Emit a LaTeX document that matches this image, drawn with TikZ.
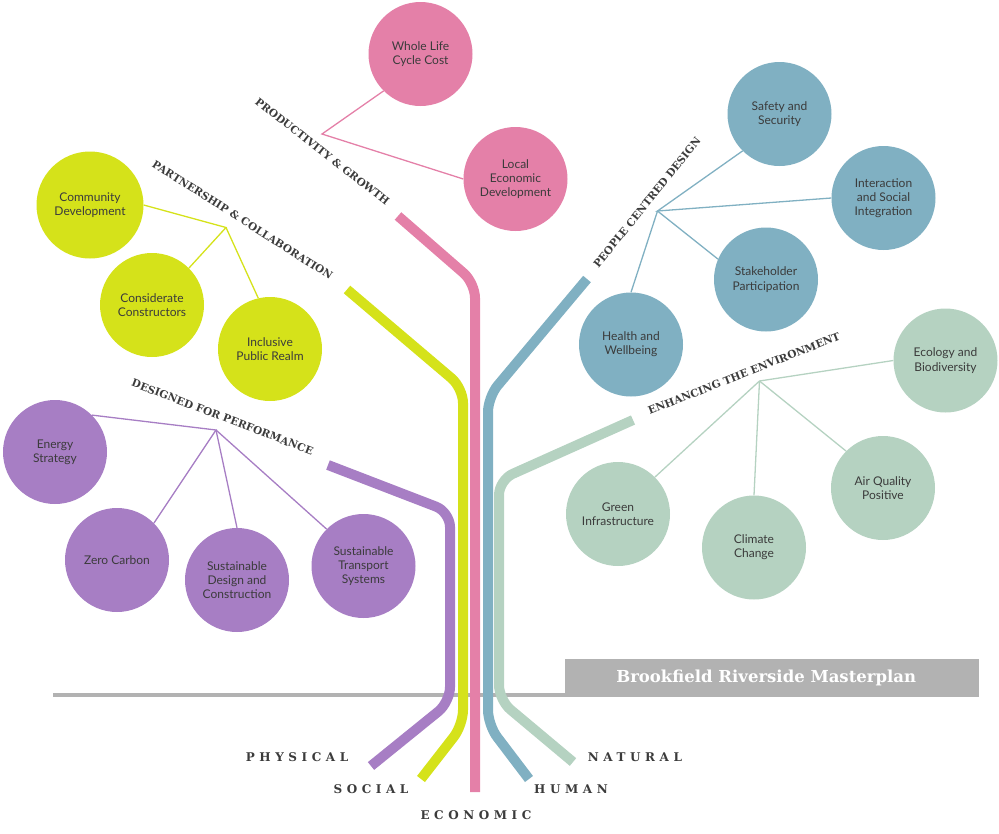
\documentclass[tikz,border=0pt]{standalone}
\usepackage{fontspec}
\setmainfont{Lato}
\newfontfamily\slab{DejaVu Serif}
\usetikzlibrary{calc}
\definecolor{pk}{HTML}{E480A8}
\definecolor{yg}{HTML}{D5E21A}
\definecolor{pu}{HTML}{A77EC4}
\definecolor{bl}{HTML}{80B0C2}
\definecolor{gn}{HTML}{B5D2C1}
\definecolor{gr}{HTML}{B2B2B2}
\definecolor{txt}{HTML}{3B3B3B}
\tikzstyle{goal}=[circle,inner sep=0pt,minimum size=104pt,align=center,text=txt,font=\fontsize{12}{14.3}\selectfont]
\tikzstyle{trunk}=[line width=10pt,rounded corners=15pt]
\tikzstyle{twig}=[line width=1.3pt]
\tikzstyle{theme}=[inner sep=0pt,text=txt,font=\slab\bfseries\fontsize{10.5}{12}\selectfont]
\tikzstyle{root}=[inner sep=0pt,text=txt,font=\slab\bfseries\fontsize{12}{13}\selectfont\addfontfeature{LetterSpace=38}]

\begin{document}
\begin{tikzpicture}[x=1pt,y=-1pt]
  \useasboundingbox (0,0) rectangle (999,833);
  % ground and title
  \node (title) [fill=gr,anchor=north west,minimum width=414pt,minimum height=37.5pt,inner sep=0pt,
                 text=white,font=\slab\bfseries\fontsize{16.5}{18}\selectfont] at (565,659) {\hspace*{-12pt}Brookfield Riverside Masterplan};
  \coordinate (groundL) at (53,694.5);
  \draw[gr,line width=4pt] (groundL) -- (groundL -| title.west);
  % trunks
  \draw[trunk,pu] (328,465) -- (450,512) -- (450,702) -- (371,766);
  \draw[trunk,yg] (347,289.5) -- (463,388) -- (463,725) -- (421,779);
  \draw[trunk,pk] (398,216) -- (475,283) -- (475,792);
  \draw[trunk,bl] (587,279) -- (488,397) -- (488,725) -- (529,779);
  \draw[trunk,gn] (633,420) -- (499,480) -- (499,700) -- (573,762);
  % goals
  \node[goal,fill=pk] (wlc) at (420.5,54) {Whole Life\\Cycle Cost};
  \node[goal,fill=pk] (led) at (515.5,179) {Local\\Economic\\Development};
  \node[goal,fill=yg,minimum size=107pt] (comdev) at (90,205) {Community\\Development};
  \node[goal,fill=yg] (considerate) at (152,305) {Considerate\\Constructors};
  \node[goal,fill=yg] (inclusive) at (270,349) {Inclusive\\Public Realm};
  \node[goal,fill=pu] (energy) at (55,452) {Energy\\Strategy};
  \node[goal,fill=pu] (zero) at (117,560) {Zero Carbon};
  \node[goal,fill=pu] (sdc) at (237,580) {Sustainable\\Design and\\Construction};
  \node[goal,fill=pu] (sts) at (363.5,566) {Sustainable\\Transport\\Systems};
  \node[goal,fill=bl] (safety) at (779.5,114) {Safety and\\Security};
  \node[goal,fill=bl] (interaction) at (883.5,198) {Interaction\\and Social\\Integration};
  \node[goal,fill=bl] (stake) at (766,279.5) {Stakeholder\\Participation};
  \node[goal,fill=bl] (health) at (631,344.5) {Health and\\Wellbeing};
  \node[goal,fill=gn] (ecology) at (945.5,360.5) {Ecology and\\Biodiversity};
  \node[goal,fill=gn] (greeninf) at (618,514) {Green\\Infrastructure};
  \node[goal,fill=gn] (climate) at (754,547.5) {Climate\\Change};
  \node[goal,fill=gn] (air) at (883,488) {Air Quality\\Positive};
  % twigs
  \coordinate (pkj) at (322,134);
  \coordinate (ygj) at (226,227.5);
  \coordinate (puj) at (216,430);
  \coordinate (blj) at (657.5,211);
  \coordinate (gnj) at (759.5,381);
  \draw[twig,pk] (wlc.225) -- (pkj) -- (led.180);
  \draw[twig,yg] (comdev.0) -- (ygj) -- (considerate.45);
  \draw[twig,yg] (ygj) -- (inclusive.103);
  \draw[twig,pu] (energy.45) -- (puj) -- (zero.45);
  \draw[twig,pu] (puj) -- (sdc.90);
  \draw[twig,pu] (puj) -- (sts.135);
  \draw[twig,bl] (safety.225) -- (blj) -- (interaction.180);
  \draw[twig,bl] (blj) -- (stake.157);
  \draw[twig,bl] (blj) -- (health.90);
  \draw[twig,gn] (ecology.180) -- (gnj) -- (greeninf.45);
  \draw[twig,gn] (gnj) -- (climate.90);
  \draw[twig,gn] (gnj) -- (air.135);
  % themes
  \node[theme,rotate=-38] (productivity) at (322.5,151.5) {PRODUCTIVITY \& GROWTH};
  \node[theme,rotate=-32.5] (partnership) at (242.5,220) {PARTNERSHIP \& COLLABORATION};
  \node[theme,rotate=51] (people) at (647,202.5) {PEOPLE CENTRED DESIGN};
  \node[theme,rotate=21.5] (enhancing) at (744,373.5) {ENHANCING THE ENVIRONMENT};
  \node[theme,rotate=-21] (designed) at (222.5,417) {DESIGNED FOR PERFORMANCE};
  % roots
  \node[root] (physical) at (297,757) {PHYSICAL};
  \node[root] (social) at (371,789) {SOCIAL};
  \node[root] (economic) at (476,815.5) {ECONOMIC};
  \node[root] (human) at (571,789) {HUMAN};
  \node[root] (natural) at (635,757) {NATURAL};
\end{tikzpicture}
\end{document}
